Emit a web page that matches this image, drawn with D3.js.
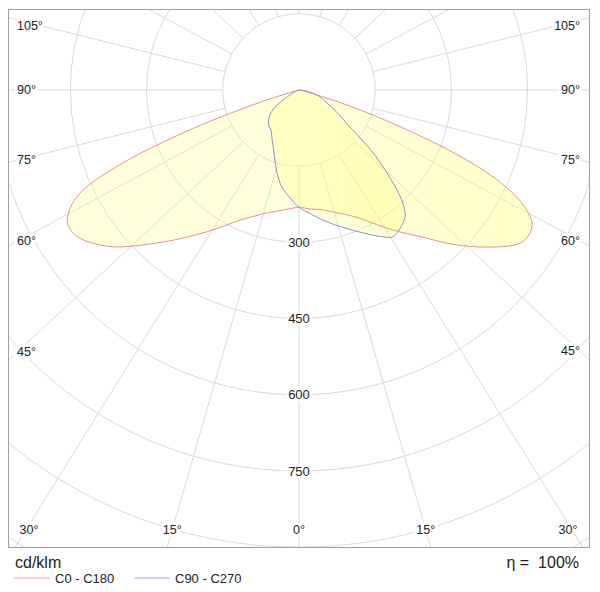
<!DOCTYPE html>
<html><head><meta charset="utf-8">
<script src="https://cdn.jsdelivr.net/npm/d3@7"></script>
<style>
body{margin:0;background:#fff}
svg{display:block}
text{font-family:"Liberation Sans",Arial,Helvetica,sans-serif;fill:#222}
</style>
</head><body>
<svg id="chart" width="600" height="592"></svg>
<script>
// ---------------- data ----------------
const gridValues   = [150, 300, 450, 600, 750, 900, 1050];
const radiusLabels = [300, 450, 600, 750];
const angleLabels  = [0, 15, 30, 45, 60, 75, 90, 105];
const seriesNames  = ["C0 - C180", "C90 - C270"];
const unitLabel    = "cd/klm";
const etaLabel     = "\u03B7 =  100%";

// C0 (right half) and C180 (left half), cd/klm vs gamma (deg)
const gammaC0   = [0, 5, 10, 15, 20, 25, 30, 35, 40, 45, 50, 55, 57.5, 60, 62.5, 65, 67.5, 70, 72.5, 75, 80, 90, 180];
const intC0     = [231, 235, 239, 248, 260, 278, 306, 340, 378, 430, 481, 528, 535, 530, 502, 447, 350, 215, 104, 28, 6, 0, 0];
const gammaC180 = [0, 5, 10, 15, 20, 25, 30, 35, 40, 45, 50, 55, 57.5, 60, 62.5, 65, 67.5, 70, 72.5, 75, 80, 90, 180];
const intC180   = [231, 235, 242, 251, 265, 284, 313, 347, 386, 431, 480, 516, 526, 526, 509, 472, 376, 225, 80, 10, 2, 0, 0];

// C90 (right half) and C270 (left half)
const gammaC90  = [0, 5, 10, 15, 20, 25, 30, 32.5, 35, 37.5, 40, 42.5, 45, 47.5, 50, 55, 60, 65, 70, 75, 80, 85, 90, 180];
const intC90    = [231, 244, 259, 275, 292, 312, 334, 343, 340, 334, 325, 303, 266, 225, 186, 115, 85, 61, 48, 35, 20, 8, 0, 0];
const gammaC270 = [0, 5, 10, 15, 20, 25, 30, 35, 40, 45, 50, 55, 60, 65, 70, 90, 180];
const intC270   = [231, 212, 194, 168, 141, 121, 107, 96, 92, 85, 74, 55, 26, 10, 0, 0, 0];

// ---------------- layout ----------------
const svg = d3.select("#chart");
const frame = {x: 8.5, y: 9.5, w: 581, h: 538};
const cx = 299, cy = 90;
const skew = 0.93;                // angular grid line aspect
const rScale = d3.scaleLinear().domain([0, 150]).range([0, 76.2]);
const gridColor = "#d8d8d8";

svg.append("rect").attr("width", 600).attr("height", 592).attr("fill", "#fff");

const defs = svg.append("defs");
defs.append("clipPath").attr("id", "clipFrame")
  .append("rect").attr("x", frame.x).attr("y", frame.y).attr("width", frame.w).attr("height", frame.h);

const grad = defs.append("radialGradient").attr("id", "yfill")
  .attr("gradientUnits", "userSpaceOnUse").attr("cx", cx).attr("cy", cy).attr("r", 300);
grad.append("stop").attr("offset", 0).attr("stop-color", "#ffff70").attr("stop-opacity", 0.44);
grad.append("stop").attr("offset", 1).attr("stop-color", "#ffff80").attr("stop-opacity", 0.27);

const g = svg.append("g").attr("clip-path", "url(#clipFrame)");

// circles
g.selectAll("circle.grid").data(gridValues).join("circle")
  .attr("class", "grid").attr("cx", cx).attr("cy", cy).attr("r", d => rScale(d))
  .attr("fill", "none").attr("stroke", gridColor).attr("stroke-width", 1);

// radial lines (angle from downward vertical)
function dirOf(phiDeg) {
  const p = phiDeg * Math.PI / 180;
  const dx = Math.sin(p), dy = skew * Math.cos(p);
  const n = Math.hypot(dx, dy);
  return [dx / n, dy / n];
}
const spokes = d3.range(0, 360, 15);
g.selectAll("line.spoke").data(spokes).join("line")
  .attr("class", "spoke")
  .attr("x1", d => cx + dirOf(d)[0] * rScale(150))
  .attr("y1", d => cy + dirOf(d)[1] * rScale(150))
  .attr("x2", d => cx + dirOf(d)[0] * 1200)
  .attr("y2", d => cy + dirOf(d)[1] * 1200)
  .attr("stroke", gridColor).attr("stroke-width", 1);

// curves
function halfPoints(gammas, vals, side) {
  return gammas.map((gm, i) => {
    const rad = gm * Math.PI / 180;
    const theta = side > 0 ? Math.PI - rad : Math.PI + rad;
    return [theta, rScale(vals[i])];
  });
}
function planePoints(gR, vR, gL, vL) {
  const right = halfPoints(gR, vR, 1);
  const left = halfPoints(gL, vL, -1).reverse();
  return right.concat(left.slice(1, left.length - 1));
}
const radial = d3.lineRadial().angle(d => d[0]).radius(d => d[1])
  .curve(d3.curveCatmullRomClosed.alpha(0.5));

const planes = [
  {pts: planePoints(gammaC0, intC0, gammaC180, intC180), stroke: "#e69090"},
  {pts: planePoints(gammaC90, intC90, gammaC270, intC270), stroke: "#8e8ed6"}
];
const cg = g.append("g").attr("transform", `translate(${cx},${cy})`);
cg.selectAll("path.fill").data(planes).join("path")
  .attr("class", "fill").attr("d", d => radial(d.pts))
  .attr("fill", "url(#yfill)").attr("stroke", "none");
cg.selectAll("path.line").data(planes).join("path")
  .attr("class", "line").attr("d", d => radial(d.pts))
  .attr("fill", "none").attr("stroke", d => d.stroke).attr("stroke-width", 1);

// frame
svg.append("rect").attr("x", frame.x).attr("y", frame.y).attr("width", frame.w).attr("height", frame.h)
  .attr("fill", "none").attr("stroke", "#a0a0a0").attr("stroke-width", 1);

// radius labels
svg.selectAll("text.rl").data(radiusLabels).join("text")
  .attr("class", "rl").attr("x", cx).attr("y", d => cy + rScale(d))
  .attr("text-anchor", "middle").attr("dominant-baseline", "central")
  .attr("font-size", 13)
  .attr("stroke", "#fff").attr("stroke-width", 5).attr("paint-order", "stroke")
  .text(d => d);

// angle labels
const leftX = 17, rightX = 580, topY = 26, botY = 530;
const angLab = [];
angleLabels.forEach(a => {
  const sides = a === 0 ? [1] : [-1, 1];
  sides.forEach(s => {
    const d = dirOf(a * s);
    let x, y, anchor;
    if (Math.abs(d[0]) < 1e-9) { x = cx; y = botY; anchor = "middle"; }
    else {
      const xe = s < 0 ? leftX : rightX;
      const t = (xe - cx) / d[0];
      y = cy + t * d[1];
      if (y > botY) {
        const t2 = (botY - cy) / d[1];
        x = cx + t2 * d[0];
        x = Math.max(leftX + 12, Math.min(rightX - 12, x));
        y = botY; anchor = "middle";
      } else {
        x = xe; y = Math.max(topY, y); anchor = s < 0 ? "start" : "end";
      }
    }
    angLab.push({a, x, y, anchor});
  });
});
svg.selectAll("text.al").data(angLab).join("text")
  .attr("class", "al").attr("x", d => d.x).attr("y", d => d.y)
  .attr("text-anchor", d => d.anchor).attr("dominant-baseline", "central")
  .attr("font-size", 12.5)
  .attr("stroke", "#fff").attr("stroke-width", 6).attr("paint-order", "stroke")
  .text(d => d.a + "\u00B0");

// footer
svg.append("text").attr("x", 15).attr("y", 568).attr("font-size", 16).text(unitLabel);
svg.append("text").attr("x", 579).attr("y", 568).attr("font-size", 16).attr("text-anchor", "end")
  .attr("xml:space", "preserve").style("white-space", "pre").text(etaLabel);

const legColors = ["#f0a4a4", "#a8a8ec"];
const legX = [14, 134];
const lg = svg.selectAll("g.leg").data(seriesNames).join("g").attr("class", "leg")
  .attr("transform", (d, i) => `translate(${legX[i]},578)`);
lg.append("line").attr("x1", 0).attr("x2", 36).attr("y1", 0).attr("y2", 0)
  .attr("stroke", (d, i) => legColors[i]).attr("stroke-width", 1);
lg.append("text").attr("x", 41).attr("y", 0).attr("dominant-baseline", "central")
  .attr("font-size", 13).text(d => d);
</script>
</body></html>
